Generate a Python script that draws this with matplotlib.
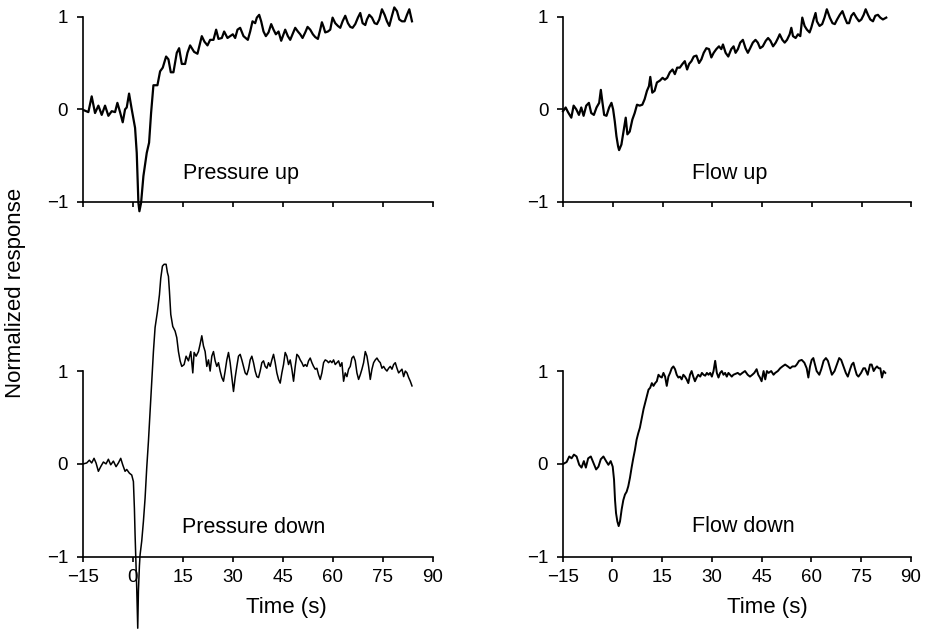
import numpy as np
import matplotlib
matplotlib.use("Agg")
import matplotlib.pyplot as plt

# -----------------------
# Plot styling
# -----------------------
plt.rcParams['font.family'] = ['Liberation Sans', 'DejaVu Sans']
plt.rcParams['font.size'] = 12

# -----------------------
# Data (time in s, normalized response)
# -----------------------
t_pressure_up = [
    -14.6, -13.3, -12.3, -11.3, -10.3, -9.3, -8.3, -7.3, -6.3, -5.3,
    -4.6, -3.8, -3.0, -2.3, -1.8, -1.1, -0.3, 0.7, 1.2, 1.7,
    2.0, 2.5, 3.2, 4.2, 4.9, 5.5, 6.2, 7.4, 8.2, 9.0,
    10.0, 10.7, 11.4, 12.2, 13.2, 13.9, 14.7, 15.7, 16.4, 17.2,
    18.4, 19.4, 20.0, 20.7, 21.5, 22.4, 23.2, 24.2, 25.0, 25.7,
    26.7, 27.4, 28.4, 29.2, 30.0, 30.7, 31.4, 32.2, 33.2,
    34.5, 35.2, 35.9, 36.7, 37.2, 37.9, 38.5, 39.2, 39.9, 40.7,
    41.5, 42.2, 42.9, 43.7, 44.5, 45.2, 45.7, 46.5, 47.2, 47.9,
    48.7, 49.5, 50.2, 50.9, 51.7, 52.4, 53.2, 54.0, 54.7, 55.5,
    56.2, 56.7, 57.2, 57.7, 58.5, 59.2, 59.9, 60.7, 61.5, 62.2,
    62.9, 63.7, 64.5, 65.2, 65.9, 66.7, 67.5, 68.2, 68.9, 69.7,
    70.2, 70.9, 71.7, 72.5, 73.2, 73.9, 74.7, 75.5, 76.2, 76.9,
    77.7, 78.4, 79.2, 79.9, 80.7, 81.5, 82.2, 82.9, 83.7,
]
r_pressure_up = [
    -0.01, -0.03, 0.14, -0.04, 0.04, -0.06, 0.04, -0.07, -0.02, -0.03,
    0.07, -0.03, -0.14, 0.00, 0.02, 0.17, 0.00, -0.20, -0.47, -1.01,
    -1.10, -1.01, -0.72, -0.47, -0.36, -0.04, 0.26, 0.26, 0.41, 0.45,
    0.57, 0.54, 0.40, 0.40, 0.61, 0.66, 0.49, 0.49, 0.61, 0.69,
    0.62, 0.60, 0.69, 0.79, 0.73, 0.69, 0.75, 0.75, 0.86, 0.76,
    0.77, 0.84, 0.77, 0.79, 0.81, 0.77, 0.86, 0.88, 0.79,
    0.75, 0.84, 0.95, 0.93, 0.99, 1.02, 0.95, 0.84, 0.79, 0.83,
    0.92, 0.86, 0.81, 0.84, 0.74, 0.81, 0.86, 0.79, 0.75, 0.81,
    0.88, 0.84, 0.81, 0.77, 0.83, 0.89, 0.86, 0.81, 0.78, 0.76,
    0.86, 0.94, 0.89, 0.83, 0.84, 0.86, 0.99, 0.93, 0.90, 0.88,
    0.95, 1.01, 0.93, 0.89, 0.88, 0.92, 0.99, 1.04, 0.93, 0.91,
    0.97, 1.02, 0.99, 0.93, 0.92, 0.97, 1.08, 1.02, 0.95, 0.90,
    1.01, 1.10, 1.06, 0.97, 0.95, 0.95, 1.02, 1.08, 0.95,
]

t_flow_up = [
    -15.0, -14.2, -13.5, -12.5, -11.8, -11.0, -10.2, -9.5, -8.8, -8.0,
    -7.2, -6.5, -5.7, -4.9, -4.1, -3.6, -3.1, -2.6, -1.9, -1.1,
    -0.4, 0.1, 0.6, 1.1, 1.6, 1.9, 2.6, 3.3, 3.9, 4.4,
    5.1, 5.9, 6.6, 7.3, 8.1, 8.9, 9.6, 10.3, 10.9, 11.3,
    11.9, 12.6, 13.3, 14.2, 15.0, 15.7, 16.4, 17.2, 18.0, 18.7,
    19.4, 20.2, 21.0, 21.7, 22.4, 23.0, 23.7, 24.4, 25.2, 26.0,
    26.7, 27.4, 28.2, 29.0, 29.7, 30.4, 31.2, 32.0, 32.7, 33.2,
    34.0, 34.8,
    35.7, 36.4, 37.0, 37.7, 38.4, 39.2, 40.0, 40.7, 41.4, 42.2,
    43.0, 43.7, 44.4, 45.2, 46.1, 46.8, 47.5, 48.3, 49.1, 49.8,
    50.3, 51.1, 51.8, 52.5, 53.3, 53.8, 54.3, 55.1, 55.8, 56.5,
    57.1, 57.8, 58.5, 59.3, 59.8, 60.5, 61.1, 61.5, 62.3, 63.1,
    63.8, 64.5, 65.4, 66.2, 66.9, 67.6, 68.4, 69.2, 69.9, 70.6,
    71.2, 71.9, 72.6, 73.4, 74.2, 74.9, 75.6, 76.2, 76.9, 77.6,
    78.4, 79.1, 79.9, 80.6, 81.4, 82.4,
]
r_flow_up = [
    -0.02, 0.02, -0.03, -0.09, 0.04, 0.00, -0.06, 0.02, -0.07, 0.04,
    0.07, -0.04, -0.06, 0.02, 0.07, 0.21, 0.07, -0.06, -0.07, 0.02,
    0.07, 0.00, -0.13, -0.29, -0.40, -0.44, -0.38, -0.22, -0.09, -0.27,
    -0.24, -0.11, -0.04, 0.05, 0.04, 0.05, 0.11, 0.20, 0.25, 0.35,
    0.18, 0.20, 0.29, 0.31, 0.34, 0.32, 0.34, 0.40, 0.43, 0.38,
    0.45, 0.45, 0.49, 0.52, 0.43, 0.49, 0.52, 0.57, 0.58, 0.50,
    0.54, 0.61, 0.66, 0.65, 0.56, 0.61, 0.65, 0.68, 0.65, 0.70,
    0.61, 0.57,
    0.65, 0.68, 0.61, 0.65, 0.72, 0.75, 0.66, 0.61, 0.66, 0.72,
    0.75, 0.72, 0.66, 0.68, 0.74, 0.77, 0.74, 0.68, 0.72, 0.77,
    0.81, 0.75, 0.72, 0.75, 0.81, 0.88, 0.79, 0.77, 0.81, 0.79,
    0.99, 0.90, 0.86, 0.83, 0.88, 0.97, 1.04, 0.95, 0.90, 0.92,
    0.99, 1.08, 0.99, 0.93, 0.92, 0.97, 1.02, 1.06, 0.99, 0.93,
    0.93, 1.01, 1.04, 0.99, 0.95, 0.97, 1.02, 1.08, 1.02, 0.97,
    0.95, 1.01, 1.02, 0.99, 0.97, 0.99,
]

t_pressure_down = [
    -14.8, -13.8, -13.0, -12.3, -11.6, -11.0, -10.3, -9.6, -8.8, -8.0,
    -7.3, -6.6, -5.8, -5.0, -4.3, -3.6, -3.0, -2.3, -1.8, -1.0,
    -0.3, 0.2, 0.5, 0.7, 0.9, 1.2, 1.5, 1.7, 2.0, 2.2,
    2.7, 3.2, 3.7, 4.2, 4.7, 5.2, 5.7, 6.2, 6.7, 7.4,
    8.0, 8.4, 8.9, 9.4, 10.0, 10.4, 10.7, 11.0, 11.4, 12.0,
    12.7, 13.2, 13.7, 14.2, 14.7,
    15.4, 16.0, 16.7, 17.4, 18.0, 18.4, 19.0, 19.7,
    20.2, 20.7, 21.2, 21.7, 22.2, 22.7, 23.2, 23.7, 24.2, 24.7,
    25.2, 25.7, 26.2, 26.7, 27.2, 27.7, 28.2, 28.7, 29.2, 29.7,
    30.2, 30.7, 31.2, 31.7, 32.2, 32.7, 33.2, 33.7, 34.2, 34.7,
    35.2, 35.7, 36.2, 36.7, 37.2, 37.7, 38.2, 38.7, 39.2, 39.7,
    40.2, 40.7, 41.2, 41.7, 42.2, 42.7, 43.2, 43.7, 44.2, 44.7,
    45.2, 45.7, 46.2, 46.7, 47.2, 47.7, 48.2, 48.7, 49.2, 49.7,
    50.2, 50.7, 51.2, 51.7, 52.2, 52.7, 53.2, 53.7, 54.2, 54.7,
    55.2, 55.7, 56.2, 56.7, 57.2, 57.7, 58.2, 58.7, 59.2, 59.7,
    60.2, 60.7, 61.2, 61.7, 62.2, 62.7, 63.2, 63.7, 64.2, 64.7,
    65.2, 65.7, 66.2, 66.7, 67.2, 67.7, 68.2, 68.7, 69.2, 69.7,
    70.2, 70.7, 71.2, 71.7, 72.2, 72.7, 73.2, 73.7, 74.2, 74.7,
    75.2, 75.7, 76.2, 76.7, 77.2, 77.7, 78.2, 78.7, 79.2, 79.7,
    80.2, 80.7, 81.2, 81.7, 82.2, 82.7, 83.2, 83.7,
]
r_pressure_down = [
    0.00, 0.01, 0.04, 0.01, 0.06, 0.01, -0.08, -0.03, 0.02, 0.00,
    0.05, -0.01, 0.03, -0.03, 0.01, 0.06, -0.01, -0.08, -0.06, -0.10,
    -0.12, -0.19, -0.48, -0.76, -0.98, -1.34, -1.77, -1.37, -1.10, -0.98,
    -0.83, -0.62, -0.37, -0.04, 0.24, 0.57, 0.89, 1.21, 1.47, 1.64,
    1.82, 2.00, 2.13, 2.15, 2.15, 2.06, 2.02, 1.86, 1.61, 1.48,
    1.43, 1.36, 1.21, 1.11, 1.05,
    1.07, 1.16, 1.11, 1.21, 0.98, 1.20, 1.16, 1.21,
    1.29, 1.38, 1.27, 1.21, 1.05, 1.12, 1.00, 1.16, 1.21, 1.11,
    1.05, 1.09, 1.00, 0.93, 0.89, 1.00, 1.12, 1.20, 1.09, 0.93,
    0.78, 0.93, 1.05, 1.16, 1.18, 1.12, 1.05, 0.98, 0.96, 1.02,
    1.12, 1.16, 1.09, 1.00, 0.94, 0.93, 1.00, 1.09, 1.11, 1.05,
    1.03, 1.09, 1.05, 1.12, 1.18, 1.09, 0.98, 0.91, 0.87, 0.98,
    1.07, 1.20, 1.16, 1.07, 1.12, 1.02, 0.89, 1.05, 1.18, 1.16,
    1.12, 1.09, 1.05, 1.07, 1.05, 1.11, 1.14, 1.09, 1.05, 1.02,
    1.03, 0.96, 0.91, 0.98, 1.09, 1.12, 1.11, 1.09, 1.11, 1.09,
    1.12, 1.07, 1.09, 1.11, 1.05, 1.09, 0.89, 0.98, 0.94, 1.02,
    1.05, 1.14, 1.16, 1.11, 0.98, 0.91, 0.96, 1.02, 1.09, 1.21,
    1.16, 1.05, 0.91, 1.02, 1.09, 1.12, 1.14, 1.11, 1.09, 1.03,
    1.05, 1.02, 1.00, 1.03, 1.05, 1.02, 1.07, 1.09, 1.03, 0.98,
    1.00, 1.02, 0.94, 1.00, 0.98, 0.93, 0.89, 0.84,
]

t_flow_down = [
    -14.8, -13.8, -13.0, -12.3, -11.6, -10.8, -10.0, -9.3, -8.6, -8.0,
    -7.3, -6.5, -5.7, -4.9, -4.2, -3.5, -2.7, -1.9, -1.2, -0.5,
    0.1, 0.5, 0.8, 1.1, 1.5, 1.9, 2.3, 2.8, 3.3, 3.8,
    4.3, 4.8, 5.3, 5.8, 6.3, 6.8, 7.3, 7.8, 8.3, 8.8,
    9.4, 9.9, 10.4, 10.9, 11.4, 11.9, 12.4, 12.9, 13.4, 13.9,
    14.4, 14.9, 15.4, 15.9, 16.4, 16.9, 17.4, 17.9, 18.4, 18.9,
    19.4, 19.9, 20.4, 20.9, 21.4, 21.9, 22.4, 22.9, 23.4, 23.9,
    24.4, 24.9, 25.4, 25.9, 26.5, 27.0, 27.5, 28.0, 28.5, 29.0,
    29.5, 30.0, 30.5, 31.0, 31.5, 32.0, 32.5, 33.0, 33.5, 34.0,
    34.5, 35.0, 35.5, 36.0, 36.5,
    37.8, 38.5, 39.2, 40.0, 40.8, 41.5, 42.2, 42.8, 43.5, 44.0,
    44.5, 45.0, 45.6, 46.1, 46.6, 47.1, 47.9, 48.6, 49.1, 49.9,
    50.6, 51.3, 52.1, 52.9, 53.6, 54.3, 55.1, 55.6, 56.3, 57.1,
    57.9, 58.6, 59.1, 59.6, 60.1, 60.6, 61.1, 61.6, 62.4, 63.0,
    63.7, 64.4, 65.0, 65.7, 66.2, 67.0, 67.7, 68.4, 69.0, 69.7,
    70.4, 71.0, 71.7, 72.2, 72.7, 73.2, 73.7, 74.2, 75.0, 75.7,
    76.2, 77.0, 77.7, 78.2, 78.8, 79.3, 79.8, 80.3, 80.8, 81.3,
    81.8, 82.3,
]
r_flow_down = [
    0.00, 0.02, 0.08, 0.06, 0.10, 0.08, -0.01, -0.04, 0.03, -0.04,
    0.06, 0.08, 0.01, -0.06, -0.03, 0.05, 0.08, 0.03, -0.01, 0.03,
    -0.03, -0.17, -0.39, -0.53, -0.62, -0.67, -0.62, -0.49, -0.39, -0.33,
    -0.30, -0.24, -0.15, -0.04, 0.06, 0.15, 0.26, 0.33, 0.39, 0.48,
    0.59, 0.66, 0.73, 0.80, 0.82, 0.87, 0.84, 0.87, 0.89, 0.96,
    0.94, 0.93, 0.98, 0.94, 0.84, 0.94, 0.98, 1.03, 1.05, 1.02,
    0.96, 0.93, 0.94, 0.91, 0.96, 0.94, 0.91, 0.87, 0.96, 1.00,
    0.94, 0.89, 0.93, 0.96, 0.94, 0.98, 0.96, 0.95, 0.98, 0.96,
    0.98, 0.94, 1.00, 1.11, 0.98, 0.93, 0.98, 1.00, 0.96, 0.98,
    0.94, 0.98, 0.96, 0.94, 0.96,
    0.98, 0.96, 0.98, 1.00, 0.96, 0.94, 0.96, 0.98, 1.02, 0.96,
    0.93, 0.89, 1.00, 0.91, 1.00, 0.98, 1.00, 0.96, 0.98, 1.00,
    1.03, 1.05, 1.07, 1.05, 1.03, 1.05, 1.05, 1.07, 1.11, 1.12,
    1.09, 1.03, 0.93, 1.05, 1.12, 1.14, 1.07, 1.00, 0.96, 1.02,
    1.11, 1.14, 1.11, 1.02, 0.96, 1.00, 1.07, 1.14, 1.12, 1.05,
    0.98, 0.94, 1.02, 1.07, 1.09, 1.02, 0.96, 0.94, 0.98, 1.03,
    1.03, 0.96, 1.07, 1.07, 1.00, 1.03, 1.05, 1.03, 1.03, 0.93,
    1.00, 0.98,
]

x_ticks = [-15, 0, 15, 30, 45, 60, 75, 90]
y_ticks = [-1, 0, 1]
panel_names = ["Pressure up", "Flow up", "Pressure down", "Flow down"]

# -----------------------
# Figure and panel layout (figure fractions)
# -----------------------
fig = plt.figure(figsize=(9.26, 6.32), dpi=100)

panels = [
    # rect, time, response, label pos, show x labels, line width
    ([0.0893, 0.6804, 0.3783, 0.2932], t_pressure_up, r_pressure_up, (15.0, -0.69), False, 1.6),
    ([0.6080, 0.6804, 0.3763, 0.2932], t_flow_up, r_flow_up, (23.8, -0.69), False, 1.6),
    ([0.0893, 0.1191, 0.3783, 0.2938], t_pressure_down, r_pressure_down, (14.8, -0.68), True, 1.1),
    ([0.6076, 0.1191, 0.3760, 0.2938], t_flow_down, r_flow_down, (23.9, -0.67), True, 1.4),
]

for (rect, t, r, (lx, ly), show_x, lw), name in zip(panels, panel_names):
    ax = fig.add_axes(rect)
    ax.plot(t, r, color='black', linewidth=lw, clip_on=False)
    ax.set_xlim(-15, 90)
    ax.set_ylim(-1, 1)
    ax.set_xticks(x_ticks)
    ax.set_yticks(y_ticks)
    ax.spines[['top', 'right']].set_visible(False)
    for side in ['left', 'bottom']:
        ax.spines[side].set_linewidth(1.2)
    ax.tick_params(axis='x', direction='out', length=3.5, width=1.2, pad=5,
                   labelsize=13.5, labelbottom=show_x)
    ax.tick_params(axis='y', direction='out', length=4.5, width=1.2, pad=6,
                   labelsize=13.5)
    ax.patch.set_alpha(0)
    ax.text(lx, ly, name, fontsize=15.5, ha='left', va='center')

# -----------------------
# Shared labels
# -----------------------
fig.text(286 / 926, 1 - 607 / 632, "Time (s)", fontsize=16, ha='center', va='center')
fig.text(767 / 926, 1 - 607 / 632, "Time (s)", fontsize=16, ha='center', va='center')
fig.text(16 / 926, 1 - 293 / 632, "Normalized response", fontsize=16,
         rotation=90, ha='center', va='center')

fig.savefig("out.png", dpi=100)
